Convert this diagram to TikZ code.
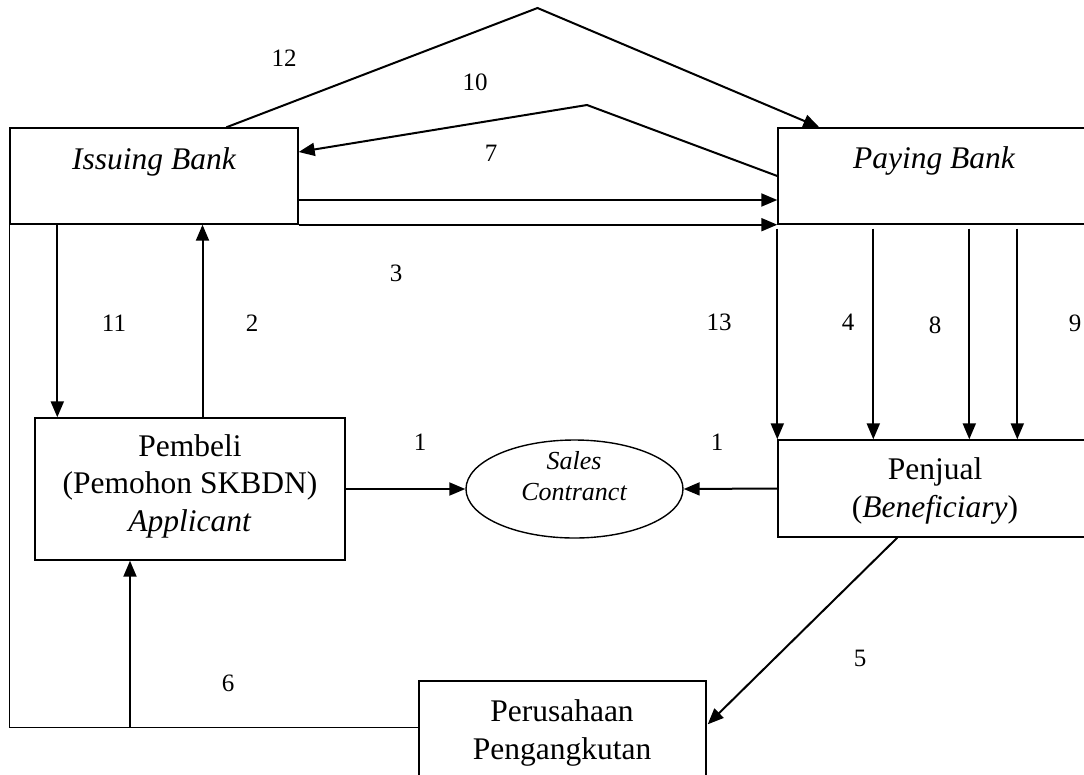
\documentclass[tikz,border=0pt]{standalone}
\usepackage{fontspec}
\setmainfont{Liberation Serif}
\usetikzlibrary{arrows.meta,calc,shapes.geometric}
\begin{document}
\begin{tikzpicture}[x=1pt,y=-1pt,
  box/.style={draw, line width=1.4pt, rectangle, inner sep=0pt},
  arr/.style={line width=2pt, -{Triangle[length=16pt,width=13pt]}},
  ln/.style={line width=1.6pt},
  lbl/.style={font=\fontsize{25}{30}\selectfont, inner sep=0pt},
  txt/.style={font=\fontsize{31.5}{37.5}\selectfont, align=center, inner sep=0pt},
  stxt/.style={font=\fontsize{26}{31.5}\selectfont\itshape, align=center, inner sep=0pt},
]
\useasboundingbox (0,0) rectangle (1084,774);
% boxes
\node[box, minimum width=288pt, minimum height=96pt] (ib) at (154,176) {};
\node[box, minimum width=312pt, minimum height=96pt] (pb) at (934,176) {};
\node[box, minimum width=310pt, minimum height=142pt] (pem) at (190,489) {};
\node[box, minimum width=312pt, minimum height=97pt] (pen) at (934,488.5) {};
\node[box, minimum width=287pt, minimum height=104pt] (per) at (562.5,733) {};
\node[draw, line width=1.4pt, ellipse, inner sep=0pt, minimum width=217pt, minimum height=98pt] (el) at (574.5,489) {};
% texts
\node[txt, font=\fontsize{31.5}{37.5}\selectfont\itshape] (ibt) at (154,162) {Issuing Bank};
\node[txt, font=\fontsize{31.5}{37.5}\selectfont\itshape] (pbt) at (934,161) {Paying Bank};
\node[txt] (pemt) at (190,486) {Pembeli\\(Pemohon SKBDN)\\\textit{Applicant}};
\node[stxt] (elt) at (574,476) {Sales\\Contranct};
\node[txt] (pent) at (935,491) {Penjual\\(\textit{Beneficiary})};
\node[txt] (pert) at (562,733) {Perusahaan\\Pengangkutan};
% helper coordinates
\coordinate (apex) at (537.5,8);
\coordinate (bend) at (587,105);
\coordinate (pw) at ($(per.north west)+(0,47)$);
% connectors
\draw[arr] ($(ib.north west)!0.75!(ib.north east)$) -- (apex) -- ($(pb.north west)+(42,0)$);
\draw[arr] (pb.west) -- (bend) -- ($(ib.east)+(0,-24)$);
\draw[arr] ($(ib.east)+(0,24)$) -- ($(pb.west)+(0,24)$);
\draw[arr] (ib.south east) -- (pb.south west);
\draw[arr] ($(ib.south west)+(48,0)$) -- ($(pem.north west)+(23,0)$);
\coordinate (c2) at ($(pem.north)+(12.5,0)$);
\draw[arr] (c2) -- (c2 |- ib.south);
\foreach \dx in {0,96,192,240}{
  \draw[arr] ($(pb.south west)+(\dx,4)$) -- ($(pen.north west)+(\dx,0)$);
}
\draw[arr] (pem.east) -- (el.west);
\draw[arr] (pen.west) -- (el.east);
\draw[arr] ($(pen.south west)+(120,0)$) -- ($(per.north east)+(1,44)$);
\draw[ln] (ib.south west) |- (pw);
\coordinate (c6) at ($(pem.south)+(-60,0)$);
\draw[arr] (c6 |- pw) -- (c6);
% labels
\node[lbl] (l12) at (284,58) {12};
\node[lbl] (l10) at (475,82) {10};
\node[lbl] (l7) at (491,153) {7};
\node[lbl] (l3) at (396,273) {3};
\node[lbl] (l11) at (114,323) {11};
\node[lbl] (l2) at (252,323) {2};
\node[lbl] (l13) at (719,322) {13};
\node[lbl] (l4) at (848,322) {4};
\node[lbl] (l8) at (935,325) {8};
\node[lbl] (l9) at (1075,323) {9};
\node[lbl] (l1a) at (420,442) {1};
\node[lbl] (l1b) at (717,442) {1};
\node[lbl] (l5) at (860,658) {5};
\node[lbl] (l6) at (228,683) {6};
\end{tikzpicture}
\end{document}
